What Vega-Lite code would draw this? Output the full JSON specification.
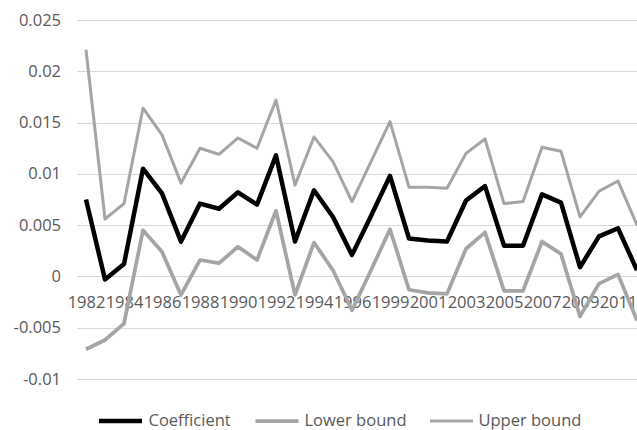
{
  "$schema": "https://vega.github.io/schema/vega-lite/v6.json",
  "autosize": "none",
  "width": 560.5,
  "height": 359,
  "padding": {"left": 76.5, "top": 20, "right": 0, "bottom": 51},
  "background": "white",
  "config": {
    "view": {"stroke": null},
    "font": "Open Sans"
  },
  "data": {
    "values": [
      {"year": "1982", "Coefficient": 0.0075, "Lower bound": -0.0071, "Upper bound": 0.0221},
      {"year": "1983", "Coefficient": -0.0003, "Lower bound": -0.0062, "Upper bound": 0.0056},
      {"year": "1984", "Coefficient": 0.0012, "Lower bound": -0.0046, "Upper bound": 0.0071},
      {"year": "1985", "Coefficient": 0.0105, "Lower bound": 0.0045, "Upper bound": 0.0164},
      {"year": "1986", "Coefficient": 0.0081, "Lower bound": 0.0024, "Upper bound": 0.0138},
      {"year": "1987", "Coefficient": 0.0034, "Lower bound": -0.0018, "Upper bound": 0.0091},
      {"year": "1988", "Coefficient": 0.0071, "Lower bound": 0.0016, "Upper bound": 0.0125},
      {"year": "1989", "Coefficient": 0.0066, "Lower bound": 0.0013, "Upper bound": 0.0119},
      {"year": "1990", "Coefficient": 0.0082, "Lower bound": 0.0029, "Upper bound": 0.0135},
      {"year": "1991", "Coefficient": 0.0070, "Lower bound": 0.0016, "Upper bound": 0.0125},
      {"year": "1992", "Coefficient": 0.0118, "Lower bound": 0.0064, "Upper bound": 0.0172},
      {"year": "1993", "Coefficient": 0.0034, "Lower bound": -0.0018, "Upper bound": 0.0089},
      {"year": "1994", "Coefficient": 0.0084, "Lower bound": 0.0033, "Upper bound": 0.0136},
      {"year": "1995", "Coefficient": 0.0058, "Lower bound": 0.0006, "Upper bound": 0.0112},
      {"year": "1996", "Coefficient": 0.0021, "Lower bound": -0.0033, "Upper bound": 0.0073},
      {"year": "1997", "Coefficient": 0.0059, "Lower bound": 0.0006, "Upper bound": 0.0112},
      {"year": "1999", "Coefficient": 0.0098, "Lower bound": 0.0046, "Upper bound": 0.0151},
      {"year": "2000", "Coefficient": 0.0037, "Lower bound": -0.0013, "Upper bound": 0.0087},
      {"year": "2001", "Coefficient": 0.0035, "Lower bound": -0.0016, "Upper bound": 0.0087},
      {"year": "2002", "Coefficient": 0.0034, "Lower bound": -0.0017, "Upper bound": 0.0086},
      {"year": "2003", "Coefficient": 0.0074, "Lower bound": 0.0027, "Upper bound": 0.0120},
      {"year": "2004", "Coefficient": 0.0088, "Lower bound": 0.0043, "Upper bound": 0.0134},
      {"year": "2005", "Coefficient": 0.0030, "Lower bound": -0.0014, "Upper bound": 0.0071},
      {"year": "2006", "Coefficient": 0.0030, "Lower bound": -0.0014, "Upper bound": 0.0073},
      {"year": "2007", "Coefficient": 0.0080, "Lower bound": 0.0034, "Upper bound": 0.0126},
      {"year": "2008", "Coefficient": 0.0072, "Lower bound": 0.0022, "Upper bound": 0.0122},
      {"year": "2009", "Coefficient": 0.0009, "Lower bound": -0.0039, "Upper bound": 0.0058},
      {"year": "2010", "Coefficient": 0.0039, "Lower bound": -0.0007, "Upper bound": 0.0083},
      {"year": "2011", "Coefficient": 0.0047, "Lower bound": 0.0002, "Upper bound": 0.0093},
      {"year": "2012", "Coefficient": 0.0006, "Lower bound": -0.0043, "Upper bound": 0.0050}
    ]
  },
  "transform": [
    {"fold": ["Coefficient", "Lower bound", "Upper bound"], "as": ["series", "value"]}
  ],
  "mark": {"type": "line", "strokeJoin": "round", "strokeCap": "butt"},
  "encoding": {
    "x": {
      "field": "year",
      "type": "ordinal",
      "sort": null,
      "scale": {"type": "point", "padding": 0.25, "align": 1},
      "axis": {
        "title": null,
        "orient": "bottom",
        "offset": -102.7,
        "domain": false,
        "ticks": false,
        "grid": false,
        "labelAngle": 0,
        "labelOverlap": false,
        "labelBound": false,
        "labelPadding": 18,
        "labelFont": "Open Sans",
        "labelFontSize": 16.5,
        "labelColor": "#595959",
        "values": ["1982", "1984", "1986", "1988", "1990", "1992", "1994", "1996", "1999", "2001", "2003", "2005", "2007", "2009", "2011"]
      }
    },
    "y": {
      "field": "value",
      "type": "quantitative",
      "scale": {"domain": [-0.01, 0.025], "nice": false, "zero": false},
      "axis": {
        "title": null,
        "domain": false,
        "ticks": false,
        "grid": true,
        "gridColor": "#D9D9D9",
        "gridWidth": 1.2,
        "labelPadding": 16,
        "labelFont": "Open Sans",
        "labelFontSize": 16.5,
        "labelColor": "#595959",
        "values": [-0.01, -0.005, 0, 0.005, 0.01, 0.015, 0.02, 0.025],
        "labelExpr": "'' + datum.value"
      }
    },
    "color": {
      "field": "series",
      "type": "nominal",
      "title": null,
      "scale": {"domain": ["Coefficient", "Lower bound", "Upper bound"], "range": ["#000000", "#A5A5A5", "#A5A5A5"]},
      "legend": {
        "orient": "none",
        "legendX": 20,
        "legendY": 391,
        "direction": "horizontal",
        "symbolType": "stroke",
        "symbolSize": 1849,
        "clipHeight": 20,
        "labelFont": "Open Sans",
        "labelFontSize": 16.5,
        "labelColor": "#595959",
        "labelOffset": 4,
        "columnPadding": 22,
        "padding": 0
      }
    },
    "strokeWidth": {
      "field": "series",
      "type": "nominal",
      "title": null,
      "scale": {"domain": ["Coefficient", "Lower bound", "Upper bound"], "range": [4.5, 3, 3]},
      "legend": {
        "orient": "none",
        "legendX": 20,
        "legendY": 391,
        "direction": "horizontal",
        "symbolType": "stroke",
        "symbolSize": 1849,
        "clipHeight": 20,
        "labelFont": "Open Sans",
        "labelFontSize": 16.5,
        "labelColor": "#595959",
        "labelOffset": 4,
        "columnPadding": 22,
        "padding": 0
      }
    }
  }
}
